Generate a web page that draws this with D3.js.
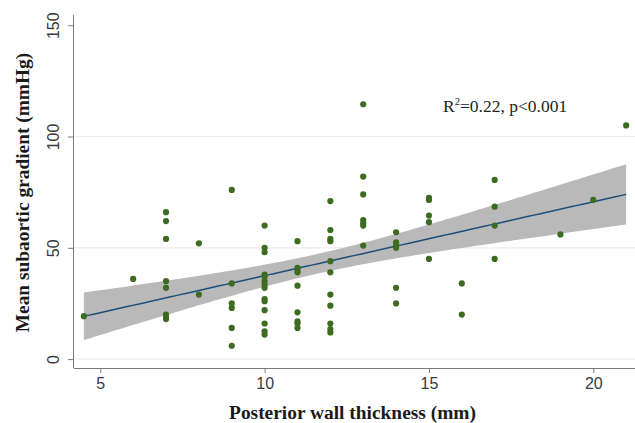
<!DOCTYPE html>
<html>
<head>
<meta charset="utf-8">
<script src="https://cdn.jsdelivr.net/npm/d3@7"></script>
<style>
  html, body { margin: 0; padding: 0; background: #fff; }
  svg { display: block; }
</style>
</head>
<body>
<svg id="chart" width="635" height="423"></svg>
<script>
// Posterior wall thickness (mm) for each patient, grouped by value
const wallThickness = [
  4.5, 6,
  7, 7, 7, 7, 7, 7, 7, 7,
  8, 8,
  9, 9, 9, 9, 9, 9,
  10, 10, 10, 10, 10, 10, 10, 10, 10, 10, 10, 10, 10, 10,
  11, 11, 11, 11, 11, 11, 11, 11, 11,
  12, 12, 12, 12, 12, 12, 12, 12, 12, 12, 12,
  13, 13, 13, 13, 13, 13, 13,
  14, 14, 14, 14, 14, 14,
  15, 15, 15, 15, 15,
  16, 16,
  17, 17, 17, 17,
  19, 20, 21
];
// Mean subaortic gradient (mmHg), same order as wallThickness
const gradient = [
  19.3, 36,
  66, 62, 54, 35, 32, 20, 19, 18,
  52, 29,
  76, 34, 25, 23, 14, 6,
  60, 50, 48, 38, 37, 35, 33.5, 32, 27, 26, 22, 16, 12.5, 11,
  53, 41, 40, 39, 33, 21, 17, 16, 14,
  71, 58, 54, 53, 44, 39, 29, 24, 16, 13.5, 12,
  114.5, 82, 74, 62.5, 61, 60, 51,
  57, 52.5, 51, 50, 32, 25,
  72.5, 71.5, 64.5, 61.5, 45,
  34, 20,
  80.5, 68.5, 60, 45,
  56, 71.5, 105
];
const xTicks = [5, 10, 15, 20];
const yTicks = [0, 50, 100, 150];
const gridValues = [0, 50, 100];
const xTitle = "Posterior wall thickness (mm)";
const yTitle = "Mean subaortic gradient (mmHg)";

const svg = d3.select("#chart");

// Plot region
const plotL = 74, plotR = 636, plotT = 15, plotB = 368;
const x = d3.scaleLinear().domain([4.2, 21.3]).range([plotL, plotR]);
const y = d3.scaleLinear().domain([-4, 154.6]).range([plotB, plotT]);

// Linear fit with 95% confidence band for the mean
const pts = wallThickness.map((v, i) => [v, gradient[i]]);
const n = pts.length;
const mx = d3.mean(pts, d => d[0]);
const my = d3.mean(pts, d => d[1]);
const sxx = d3.sum(pts, d => (d[0] - mx) ** 2);
const sxy = d3.sum(pts, d => (d[0] - mx) * (d[1] - my));
const slope = sxy / sxx;
const intercept = my - slope * mx;
const sse = d3.sum(pts, d => (d[1] - (intercept + slope * d[0])) ** 2);
const s = Math.sqrt(sse / (n - 2));
const tCrit = 1.991; // t(0.975, n-2)
const [xmin, xmax] = d3.extent(wallThickness);
const fit = d3.range(0, 101).map(i => {
  const xv = xmin + (xmax - xmin) * i / 100;
  const yv = intercept + slope * xv;
  const hw = tCrit * s * Math.sqrt(1 / n + (xv - mx) ** 2 / sxx);
  return { x: xv, y: yv, lo: yv - hw, hi: yv + hw };
});

// Horizontal grid lines
svg.append("g").selectAll("line").data(gridValues).join("line")
  .attr("x1", plotL).attr("x2", plotR)
  .attr("y1", d => y(d)).attr("y2", d => y(d))
  .attr("stroke", "#ececec").attr("stroke-width", 1.2);

// Confidence band
svg.append("path").datum(fit)
  .attr("fill", "#b9b9b9")
  .attr("d", d3.area().x(d => x(d.x)).y0(d => y(d.lo)).y1(d => y(d.hi)));

// Fitted line
svg.append("path").datum(fit)
  .attr("fill", "none").attr("stroke", "#1f4e79").attr("stroke-width", 1.5)
  .attr("d", d3.line().x(d => x(d.x)).y(d => y(d.y)));

// Observations
svg.append("g").selectAll("circle").data(pts).join("circle")
  .attr("cx", d => x(d[0])).attr("cy", d => y(d[1])).attr("r", 3.1)
  .attr("fill", "#3e6b22");

// Axes
const xAxis = d3.axisBottom(x).tickValues(xTicks).tickSize(5).tickPadding(5).tickSizeOuter(0);
const gx = svg.append("g").attr("transform", `translate(0,${plotB})`).call(xAxis);
gx.select(".domain").attr("stroke", "#7a7a7a").attr("d", `M${plotL},0.5H${plotR}`);
gx.selectAll(".tick line").attr("stroke", "#7a7a7a");
gx.selectAll(".tick text")
  .attr("font-family", "Liberation Sans, Arial, sans-serif")
  .attr("font-size", 16).attr("fill", "#3a3a3a");

const yAxis = d3.axisLeft(y).tickValues(yTicks).tickSize(6).tickSizeOuter(0);
const gy = svg.append("g").attr("transform", `translate(${plotL},0)`).call(yAxis);
gy.select(".domain").attr("stroke", "#7a7a7a").attr("d", `M-0.5,${plotT}V${plotB}`);
gy.selectAll(".tick line").attr("stroke", "#7a7a7a");
gy.selectAll(".tick text")
  .attr("font-family", "Liberation Sans, Arial, sans-serif")
  .attr("font-size", 16).attr("fill", "#3a3a3a")
  .attr("text-anchor", "middle")
  .attr("x", 0).attr("dy", 0)
  .attr("transform", "translate(-19,0) rotate(-90)")
  .attr("dominant-baseline", "middle");

// Axis titles
svg.append("text")
  .attr("x", 352.5).attr("y", 419)
  .attr("text-anchor", "middle")
  .attr("font-family", "Liberation Serif, Times New Roman, serif")
  .attr("font-weight", "bold").attr("font-size", 19.4).attr("fill", "#1a1a1a")
  .text(xTitle);

svg.append("text")
  .attr("transform", "translate(28.5,192.5) rotate(-90)")
  .attr("text-anchor", "middle")
  .attr("font-family", "Liberation Serif, Times New Roman, serif")
  .attr("font-weight", "bold").attr("font-size", 19.4).attr("fill", "#1a1a1a")
  .text(yTitle);

// Fit statistics
const stat = svg.append("text")
  .attr("x", 443).attr("y", 111.5)
  .attr("font-family", "Liberation Serif, Times New Roman, serif")
  .attr("font-size", 17.5).attr("fill", "#222");
stat.append("tspan").text("R");
stat.append("tspan").attr("font-size", 10.5).attr("dy", -6.5).text("2");
stat.append("tspan").attr("dy", 6.5).text("=0.22, p<0.001");
</script>
</body>
</html>
